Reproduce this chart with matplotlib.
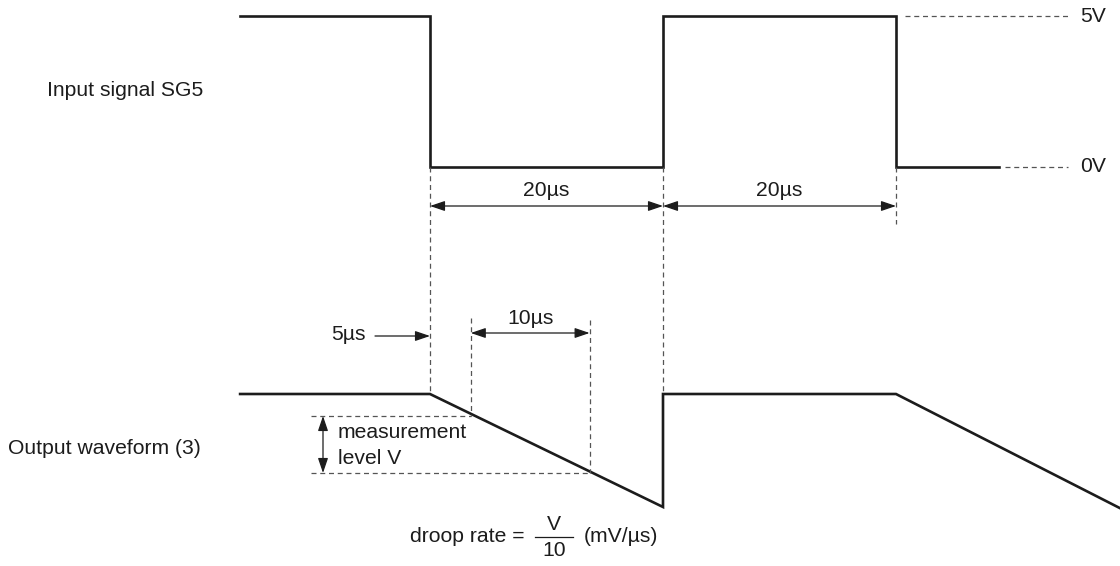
import matplotlib
matplotlib.use("Agg")
import matplotlib.pyplot as plt

plt.rcParams['font.family'] = ['Liberation Sans', 'DejaVu Sans']

# ---- data (time in µs, t=0 at the first falling edge) ----
in_t = [-16.3, 0, 0, 20, 20, 40, 40, 48.8]
in_v = [5, 5, 0, 0, 5, 5, 0, 0]            # volts
out_t = [-16.3, 0, 20, 20, 40, 59.2]
out_v = [0, 0, -113, 0, 0, -114]            # relative drop (diagram units)
meas_t = [3.5, 13.7]                        # measurement start / end
meas_v = [-22, -79]                         # measurement levels
period_labels = ["20µs", "20µs"]

PX = 11.65     # px per µs
X0 = 430       # px of t=0
def T(px):     # layout helper: pixel column -> µs
    return (px - X0) / PX
def yin(v):    # input volts -> pixel row
    return 167 - v * (151 / 5)
def yout(v):
    return 394 - v

fig = plt.figure(figsize=(11.2, 5.66), dpi=100)
ax = fig.add_axes([0, 0, 1, 1])
ax.set_xlim(T(0), T(1120))
ax.set_ylim(566, 0)
ax.axis('off')

LW = 1.9
INK = '#1c1c1c'
dash = dict(color='#555555', lw=0.9, dashes=(4, 3))
FS = 15.2

# input signal
ax.plot(in_t, [yin(v) for v in in_v], color=INK, lw=LW, solid_joinstyle='miter')
# output waveform
ax.plot(out_t, [yout(v) for v in out_v], color=INK, lw=LW, solid_joinstyle='miter')

# level reference dashes
ax.plot([T(905), T(1068)], [yin(5), yin(5)], **dash)
ax.plot([T(1005), T(1068)], [yin(0), yin(0)], **dash)
ax.text(T(1080), yin(5), "5V", fontsize=FS, va='center', ha='left', color=INK)
ax.text(T(1080), yin(0), "0V", fontsize=FS, va='center', ha='left', color=INK)

# vertical dashed guides
ax.plot([in_t[1], in_t[1]], [yin(0), yout(0)], **dash)
ax.plot([in_t[3], in_t[3]], [yin(0), yout(0)], **dash)
ax.plot([in_t[5], in_t[5]], [yin(0), 224], **dash)
ax.plot([meas_t[0], meas_t[0]], [318, yout(meas_v[0])], **dash)
ax.plot([meas_t[1], meas_t[1]], [320, yout(meas_v[1])], **dash)

# measurement levels
ax.plot([T(311), meas_t[0]], [yout(meas_v[0])] * 2, **dash)
ax.plot([T(311), meas_t[1]], [yout(meas_v[1])] * 2, **dash)

arrow2 = dict(arrowstyle='<|-|>,head_length=0.5,head_width=0.17', color=INK,
              lw=0.9, mutation_scale=18, shrinkA=0, shrinkB=0)
arrow1 = dict(arrowstyle='-|>,head_length=0.5,head_width=0.17', color=INK,
              lw=0.9, mutation_scale=18, shrinkA=0, shrinkB=0)

# 20µs periods
for (a, b), lab in zip([(in_t[1], in_t[3]), (in_t[3], in_t[5])], period_labels):
    ax.annotate("", xy=(b, 206), xytext=(a, 206), arrowprops=arrow2)
    ax.text((a + b) / 2, 190, lab, fontsize=FS, ha='center', va='center', color=INK)

# 5µs
ax.annotate("", xy=(0, 336), xytext=(T(375), 336), arrowprops=arrow1)
ax.text(T(366), 334, "5µs", fontsize=FS, ha='right', va='center', color=INK)

# 10µs
ax.annotate("", xy=(meas_t[1], 333), xytext=(meas_t[0], 333), arrowprops=arrow2)
ax.text((meas_t[0] + meas_t[1]) / 2, 319, "10µs", fontsize=FS, ha='center',
        va='center', color=INK)

# measurement level V
ax.annotate("", xy=(T(323), yout(meas_v[1])), xytext=(T(323), yout(meas_v[0])),
            arrowprops=arrow2)
ax.text(T(338), 432, "measurement", fontsize=FS, ha='left', va='center', color=INK)
ax.text(T(338), 458, "level V", fontsize=FS, ha='left', va='center', color=INK)

# labels
ax.text(T(47), 91, "Input signal SG5", fontsize=FS, ha='left', va='center', color=INK)
ax.text(T(8), 448, "Output waveform (3)", fontsize=FS, ha='left', va='center', color=INK)

# droop rate formula
ax.text(T(410), 537, "droop rate =", fontsize=FS, ha='left', va='center', color=INK)
ax.plot([T(535), T(573)], [537, 537], color=INK, lw=0.9)
ax.text(T(554), 524, "V", fontsize=FS, ha='center', va='center', color=INK)
ax.text(T(554), 551, "10", fontsize=FS, ha='center', va='center', color=INK)
ax.text(T(584), 537, "(mV/µs)", fontsize=FS, ha='left', va='center', color=INK)

fig.savefig("out.png", dpi=100, facecolor='white')
